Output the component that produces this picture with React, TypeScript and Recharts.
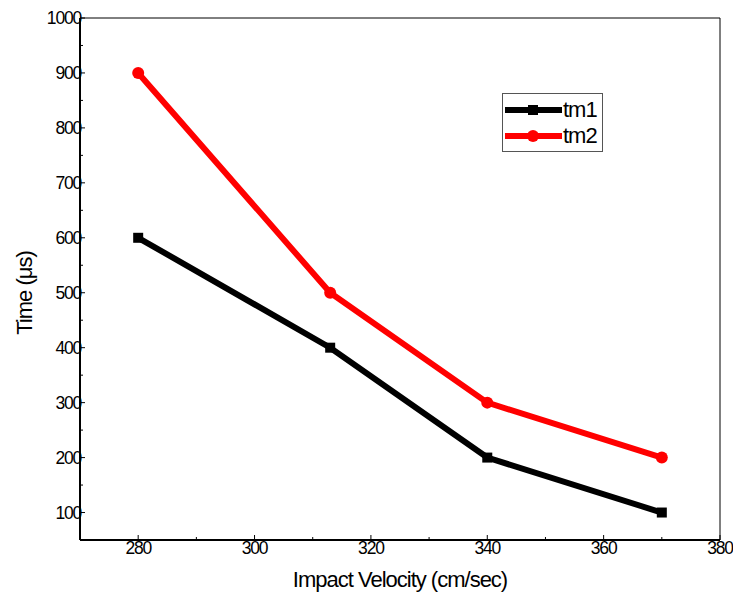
import React from "react";
import { LineChart, Line, XAxis, YAxis, ReferenceLine } from "recharts";

const velocities = [280, 313, 340, 370];
const tm1 = [600, 400, 200, 100];
const tm2 = [900, 500, 300, 200];
const xTicks = [270, 280, 290, 300, 310, 320, 330, 340, 350, 360, 370, 380];
const yTicks = [100, 150, 200, 250, 300, 350, 400, 450, 500, 550, 600, 650, 700, 750, 800, 850, 900, 950, 1000];

const data = velocities.map((v, i) => ({ v, tm1: tm1[i], tm2: tm2[i] }));

const FONT = "'Liberation Sans', Arial, sans-serif";

const YTick = (props: any) => {
  const { x, y, payload } = props;
  const major = payload.value % 100 === 0;
  return (
    <g>
      <line x1={x} x2={x + (major ? 5 : 3)} y1={y} y2={y} stroke="#000" strokeWidth={1} />
      {major && (
        <text x={x + 1} y={y} textAnchor="end" dominantBaseline="central" fontSize={17.5} fontFamily={FONT} letterSpacing={-1.2} fill="#000">
          {payload.value}
        </text>
      )}
    </g>
  );
};

const XTick = (props: any) => {
  const { x, y, payload } = props;
  const major = payload.value % 20 === 0;
  return (
    <g>
      <line x1={x} x2={x} y1={y} y2={y - (major ? 5 : 3)} stroke="#000" strokeWidth={1} />
      {major && (
        <text x={x} y={y + 8} textAnchor="middle" dominantBaseline="central" fontSize={17.5} fontFamily={FONT} letterSpacing={-1.2} fill="#000">
          {payload.value}
        </text>
      )}
    </g>
  );
};

const Square = (props: any) => {
  const { cx, cy } = props;
  return <rect x={cx - 5} y={cy - 5} width={10} height={10} fill="#000" />;
};

const Dot = (props: any) => {
  const { cx, cy } = props;
  return <circle cx={cx} cy={cy} r={6} fill="#ff0000" />;
};

const legendItems = [
  { name: "tm1", color: "#000", shape: "sq" },
  { name: "tm2", color: "#ff0000", shape: "ci" },
];

const LegendBox = () => (
  <div style={{ position: "absolute", left: 502, top: 93, border: "1px solid #555", width: 101, height: 59, boxSizing: "border-box", background: "#fff", fontFamily: FONT }}>
    {legendItems.map((e, i) => (
      <div key={e.name} style={{ display: "flex", alignItems: "center", height: 26, marginTop: i === 0 ? 3 : 0 }}>
        <svg width={60} height={20} style={{ display: "block" }}>
          <line x1={2} x2={59} y1={10} y2={10} stroke={e.color} strokeWidth={6} />
          {e.shape === "sq" ? <rect x={25} y={5} width={10} height={10} fill={e.color} /> : <circle cx={30} cy={10} r={6} fill={e.color} />}
        </svg>
        <span style={{ fontSize: 22, letterSpacing: -1, color: "#000", lineHeight: "20px" }}>{e.name}</span>
      </div>
    ))}
  </div>
);

export default function App() {
  return (
    <div style={{ position: "absolute", left: 0, top: 0, width: 733, height: 593, background: "#fff" }}>
      <LineChart width={733} height={593} data={data} margin={{ top: 18, right: 13, bottom: 0, left: 0 }}>
        <XAxis
          dataKey="v"
          type="number"
          domain={[270, 380]}
          ticks={xTicks}
          interval={0}
          stroke="#000"
          axisLine={false}
          tickLine={false}
          tickSize={0}
          tickMargin={0}
          tick={<XTick />}
          height={53}
          label={{ value: "Impact Velocity (cm/sec)", position: "insideBottom", offset: 6, fontSize: 22, fontFamily: FONT, letterSpacing: -1, fill: "#000" }}
        />
        <YAxis
          type="number"
          domain={[50, 1000]}
          ticks={yTicks}
          interval={0}
          stroke="#000"
          axisLine={false}
          tickLine={false}
          tickSize={0}
          tickMargin={0}
          tick={<YTick />}
          width={80}
          label={{ value: "Time (\u03bcs)", angle: -90, position: "insideLeft", offset: 24, dy: 14, fontSize: 22, fontFamily: FONT, letterSpacing: -1, fill: "#000", style: { textAnchor: "middle" } }}
        />
        <ReferenceLine y={1000} stroke="#000" strokeWidth={1} ifOverflow="visible" />
        <ReferenceLine x={380} stroke="#000" strokeWidth={1} ifOverflow="visible" />
        <ReferenceLine y={50} stroke="#000" strokeWidth={2} ifOverflow="visible" />
        <ReferenceLine x={270} stroke="#000" strokeWidth={2} ifOverflow="visible" />
        <Line dataKey="tm1" stroke="#000" strokeWidth={6} dot={<Square />} activeDot={false} isAnimationActive={false} />
        <Line dataKey="tm2" stroke="#ff0000" strokeWidth={6} dot={<Dot />} activeDot={false} isAnimationActive={false} />
      </LineChart>
      <LegendBox />
    </div>
  );
}
